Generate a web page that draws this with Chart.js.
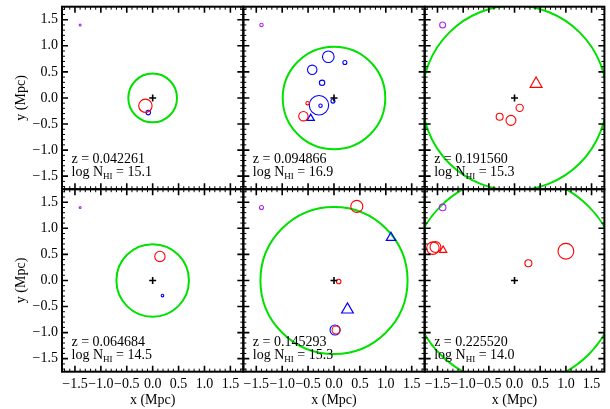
<!DOCTYPE html>
<html>
<head>
<meta charset="utf-8">
<script src="https://cdn.jsdelivr.net/npm/chart.js@4.4.0/dist/chart.umd.min.js"></script>
<style>
  html, body { margin: 0; padding: 0; background: #fff; }
  #wrap { position: relative; width: 610px; height: 409px; }
  #wrap canvas { position: absolute; left: 0; top: 0; }
</style>
</head>
<body>
<div id="wrap"></div>
<script>
// one entry per panel, row by row
const redshifts = ['0.042261', '0.094866', '0.191560', '0.064684', '0.145293', '0.225520'];
const logNHI = ['15.1', '16.9', '15.3', '14.5', '15.3', '14.0'];
const virialRadius = [0.47, 0.99, 1.80, 0.70, 1.42, 2.04];

// galaxies: [x, y, r] in Mpc
const redCircles = [
  [[-0.14, -0.15, 0.129]],
  [[-0.59, -0.35, 0.091], [-0.51, -0.10, 0.033]],
  [[0.10, -0.19, 0.071], [-0.29, -0.36, 0.068], [-0.07, -0.43, 0.097]],
  [[0.14, 0.46, 0.100]],
  [[0.44, 1.42, 0.116], [0.09, -0.02, 0.044], [0.04, -0.95, 0.077]],
  [[-1.59, 0.62, 0.122], [-1.54, 0.64, 0.106], [1.00, 0.56, 0.154], [0.27, 0.33, 0.068]]
];
const blueCircles = [
  [[-0.085, -0.28, 0.044]],
  [[-0.11, 0.79, 0.112], [-0.42, 0.54, 0.091], [0.21, 0.68, 0.039], [-0.23, 0.29, 0.052],
   [-0.29, -0.14, 0.187], [-0.26, -0.15, 0.033], [-0.02, -0.06, 0.039]],
  [],
  [[0.19, -0.29, 0.025]],
  [[0.02, -0.95, 0.097]],
  []
];
const redTriangles = [[], [], [[0.42, 0.27, 0.133]], [], [], [[-1.39, 0.58, 0.081]]];
const blueTriangles = [[], [[-0.45, -0.39, 0.081]], [], [], [[1.10, 0.82, 0.104], [0.26, -0.56, 0.130]], []];
const scaleMarker = [0.019, 0.033, 0.058, 0.019, 0.039, 0.064];
const scaleMarkerPos = [-1.40, 1.40];
const tickValues = [-1.5, -1.0, -0.5, 0.0, 0.5, 1.0, 1.5];
const axisMin = -1.75, axisMax = 1.75;

const GREEN = 'rgb(0,225,0)';
const RED = '#ff0000';
const BLUE = '#0000ff';
const PURPLE = 'rgb(170,40,240)';
const SERIF = "'Liberation Serif', 'Times New Roman', serif";

Chart.defaults.font.family = SERIF;
Chart.defaults.color = '#000';

const colLeft = c => 62 + c * 181.33;
const rowTop = r => 6.7 + r * 182.5;

function pxRadius(ctx) {
  if (!ctx.raw || ctx.raw.r === undefined) return 0;
  const s = ctx.chart.scales.x;
  return Math.abs(s.getPixelForValue(ctx.raw.r) - s.getPixelForValue(0));
}
const toPts = list => list.map(p => ({ x: p[0], y: p[1], r: p[2] }));
const fmt = v => v.toFixed(1).replace('-', '\u2212');

const panelDecor = {
  id: 'panelDecor',
  afterDatasetsDraw(chart, args, opts) {
    const { ctx, chartArea: a, scales: { x, y } } = chart;
    ctx.save();
    ctx.strokeStyle = '#000';
    ctx.lineWidth = 2;
    ctx.strokeRect(a.left, a.top, a.right - a.left, a.bottom - a.top);
    for (let i = -17; i <= 17; i++) {
      const major = i % 5 === 0;
      const len = major ? 6 : 3;
      ctx.lineWidth = major ? 1.6 : 1;
      const px = x.getPixelForValue(i / 10);
      const py = y.getPixelForValue(i / 10);
      ctx.beginPath();
      ctx.moveTo(px, a.bottom); ctx.lineTo(px, a.bottom - len);
      ctx.moveTo(px, a.top); ctx.lineTo(px, a.top + len);
      ctx.moveTo(a.left, py); ctx.lineTo(a.left + len, py);
      ctx.moveTo(a.right, py); ctx.lineTo(a.right - len, py);
      ctx.stroke();
    }
    // redshift and column density label
    const tx = a.left + 9.5;
    ctx.fillStyle = '#000';
    ctx.textBaseline = 'alphabetic';
    ctx.textAlign = 'left';
    ctx.font = '14px ' + SERIF;
    ctx.fillText('z = ' + opts.z, tx, a.bottom - 26);
    let cx = tx;
    const by = a.bottom - 13;
    ctx.fillText('log N', cx, by);
    cx += ctx.measureText('log N').width;
    ctx.font = '9px ' + SERIF;
    ctx.fillText('HI', cx, by + 3);
    cx += ctx.measureText('HI').width;
    ctx.font = '14px ' + SERIF;
    ctx.fillText(' = ' + opts.logN, cx, by);
    ctx.restore();
  }
};

const wrap = document.getElementById('wrap');

for (let i = 0; i < 6; i++) {
  const r = Math.floor(i / 3), c = i % 3;
  const canvas = document.createElement('canvas');
  canvas.width = 610; canvas.height = 409;
  wrap.appendChild(canvas);

  const showY = c === 0, showX = r === 1;
  const circleSet = (list, color, w) => ({
    data: toPts(list), pointStyle: 'circle', borderColor: color, borderWidth: w,
    backgroundColor: 'transparent', pointRadius: pxRadius, clip: 0
  });
  const triSet = (list, color) => ({
    data: toPts(list), pointStyle: 'triangle', borderColor: color, borderWidth: 1.2,
    backgroundColor: 'transparent', pointRadius: pxRadius, clip: 0
  });

  new Chart(canvas, {
    type: 'scatter',
    data: {
      datasets: [
        { data: [{ x: 0, y: 0 }], pointStyle: 'cross', pointRadius: 3.5, borderColor: '#000', borderWidth: 1.6, clip: 0 },
        circleSet(redCircles[i], RED, 1.1),
        circleSet(blueCircles[i], BLUE, 1.1),
        triSet(redTriangles[i], RED),
        triSet(blueTriangles[i], BLUE),
        circleSet([[scaleMarkerPos[0], scaleMarkerPos[1], scaleMarker[i]]], PURPLE, 1.1),
        circleSet([[0, 0, virialRadius[i]]], GREEN, 2)
      ]
    },
    options: {
      responsive: false,
      animation: false,
      events: [],
      layout: {
        padding: {
          left: showY ? 0 : colLeft(c),
          right: 610 - colLeft(c + 1),
          top: rowTop(r),
          bottom: showX ? 0 : 409 - rowTop(r + 1)
        }
      },
      scales: {
        x: {
          type: 'linear', min: axisMin, max: axisMax, display: showX,
          afterBuildTicks: s => { s.ticks = tickValues.map(v => ({ value: v })); },
          afterFit: s => {
            s.height = showX ? 409 - rowTop(2) : 0;
            s.paddingLeft = 0; s.paddingRight = 0;
          },
          grid: { display: false, drawTicks: false },
          border: { display: false },
          ticks: { autoSkip: false, maxRotation: 0, minRotation: 0, padding: 4, font: { size: 14 }, callback: v => fmt(v) },
          title: { display: true, text: 'x (Mpc)', font: { size: 14 }, padding: { top: 0, bottom: 0 } }
        },
        y: {
          type: 'linear', min: axisMin, max: axisMax, display: showY,
          afterBuildTicks: s => { s.ticks = tickValues.map(v => ({ value: v })); },
          afterFit: s => {
            s.width = showY ? 62 : 0;
            s.paddingTop = 0; s.paddingBottom = 0;
          },
          grid: { display: false, drawTicks: false },
          border: { display: false },
          ticks: { autoSkip: false, padding: 4, font: { size: 14 }, callback: v => fmt(v) },
          title: { display: true, text: 'y (Mpc)', font: { size: 14 }, padding: { top: 13, bottom: 0 } }
        }
      },
      plugins: {
        legend: { display: false },
        tooltip: { enabled: false },
        panelDecor: { z: redshifts[i], logN: logNHI[i] }
      }
    },
    plugins: [panelDecor]
  });
}
</script>
</body>
</html>
